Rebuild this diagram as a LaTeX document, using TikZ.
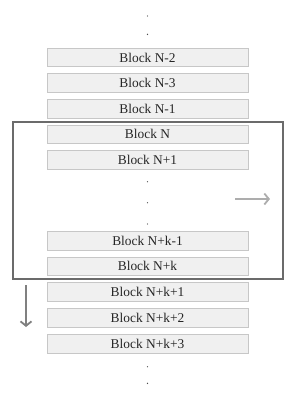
\documentclass[tikz,border=0pt]{standalone}
\usepackage{fontspec}
\setmainfont{Liberation Serif}
\usetikzlibrary{positioning,arrows.meta,fit}

\begin{document}
\begin{tikzpicture}[
  x=1pt, y=-1pt,
  font=\fontsize{13.4}{15}\selectfont,
  >={Straight Barb[length=4.5pt,width=11pt]},
  block/.style={
    draw=black!22, fill=black!6, line width=1pt,
    minimum width=201pt, minimum height=18.6pt,
    inner sep=0pt, text=black!85
  },
  vdot/.style={circle, fill=black!70, inner sep=0pt, minimum size=1.4pt},
  frame/.style={draw=black!58, line width=2pt, inner xsep=34pt, inner ysep=3pt},
  arrow/.style={->, line width=1.8pt}
]
\useasboundingbox (0,0) rectangle (299,400);

% ---------- blocks above the window ----------
\node[vdot] (top1) at (147.5,16) {};
\node[vdot] (top2) at (147.5,34.3) {};
\node[block] (bNm2) at (147.5,57.5) {Block N-2};
\node[block, below=6pt of bNm2] (bNm3) {Block N-3};
\node[block, below=6pt of bNm3] (bNm1) {Block N-1};

% ---------- window ----------
\node[block, below=6pt of bNm1] (bN)   {Block N};
\node[block, below=6pt of bN]   (bNp1) {Block N+1};
\node[vdot] (mid1) at (147.5,181.7) {};
\node[vdot] (mid2) at (147.5,202.7) {};
\node[vdot] (mid3) at (147.5,224) {};
\node[block] (bNkm1) at (147.5,240.8) {Block N+k-1};
\node[block, below=6pt of bNkm1] (bNk) {Block N+k};

\node[frame, fit=(bN)(bNk)] (window) {};

% ---------- blocks below the window ----------
\node[block, below=6.2pt of bNk]   (bNk1) {Block N+k+1};
\node[block, below=6.2pt of bNk1]  (bNk2) {Block N+k+2};
\node[block, below=6.2pt of bNk2]  (bNk3) {Block N+k+3};
\node[vdot] (bot1) at (147.5,366.7) {};
\node[vdot] (bot2) at (147.5,383.3) {};

% ---------- arrows ----------
\coordinate (rs) at (235,199);
\coordinate (re) at (270,199);
\draw[arrow, black!32] (rs) -- (re);

\coordinate (ds) at (26,285);
\coordinate (de) at (26,327);
\draw[arrow, black!50] (ds) -- (de);

\end{tikzpicture}
\end{document}
